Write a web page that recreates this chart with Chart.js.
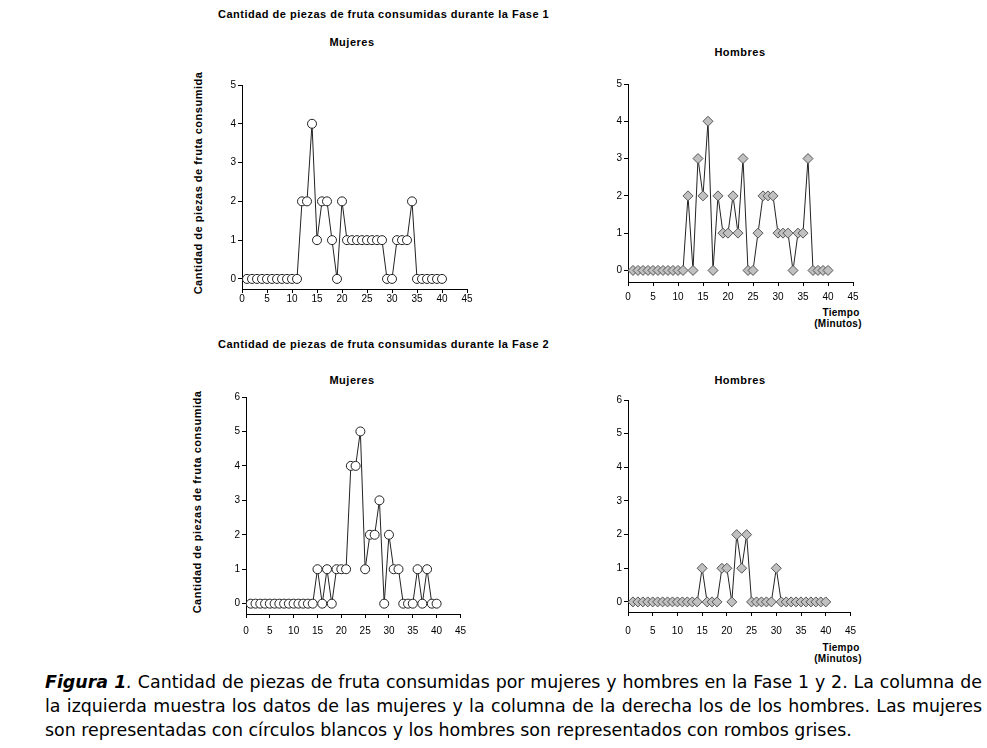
<!DOCTYPE html>
<html>
<head>
<meta charset="utf-8">
<script src="https://cdn.jsdelivr.net/npm/chart.js@4/dist/chart.umd.min.js"></script>
<style>
  body { margin: 0; background: #fff; width: 987px; height: 748px; position: relative; overflow: hidden; }
  canvas { position: absolute; }
  .t { position: absolute; font-family: "Liberation Sans", Arial, sans-serif; font-weight: bold; font-size: 11px; letter-spacing: 0.5px; color: #000; white-space: nowrap; }
  .c { transform: translate(-50%, -50%); }
  .s { font-size: 10px; letter-spacing: 0.3px; }
  .ytitle { transform: translate(-50%, -50%) rotate(-90deg); }
  #caption { position: absolute; left: 45px; top: 670px; width: 937px; font-family: "DejaVu Sans", sans-serif; font-size: 17.4px; line-height: 24px; text-align: justify; color: #000; }
</style>
</head>
<body>
<div class="t" style="left:218px; top:8px;">Cantidad de piezas de fruta consumidas durante la Fase 1</div>
<div class="t c" style="left:352px; top:42px;">Mujeres</div>
<div class="t c" style="left:740px; top:52px;">Hombres</div>
<div class="t ytitle" style="left:198px; top:183px;">Cantidad de piezas de fruta consumida</div>
<div class="t c s" style="left:841px; top:312px;">Tiempo</div>
<div class="t c s" style="left:838px; top:323px;">(Minutos)</div>

<div class="t" style="left:218px; top:338px;">Cantidad de piezas de fruta consumidas durante la Fase 2</div>
<div class="t c" style="left:352px; top:380px;">Mujeres</div>
<div class="t c" style="left:740px; top:380px;">Hombres</div>
<div class="t ytitle" style="left:197px; top:502px;">Cantidad de piezas de fruta consumida</div>
<div class="t c s" style="left:841px; top:647px;">Tiempo</div>
<div class="t c s" style="left:838px; top:658px;">(Minutos)</div>

<canvas id="f1m"></canvas>
<canvas id="f1h"></canvas>
<canvas id="f2m"></canvas>
<canvas id="f2h"></canvas>

<div id="caption"><b><i>Figura 1</i></b><i>.</i> Cantidad de piezas de fruta consumidas por mujeres y hombres en la Fase 1 y 2. La columna de la izquierda muestra los datos de las mujeres y la columna de la derecha los de los hombres. Las mujeres son representadas con círculos blancos y los hombres son representados con rombos grises.</div>

<script>
// minutos 1..40
const minutes = [1,2,3,4,5,6,7,8,9,10,11,12,13,14,15,16,17,18,19,20,21,22,23,24,25,26,27,28,29,30,31,32,33,34,35,36,37,38,39,40];

const mujeresFase1 = [0,0,0,0,0,0,0,0,0,0,0,2,2,4,1,2,2,1,0,2,1,1,1,1,1,1,1,1,0,0,1,1,1,2,0,0,0,0,0,0];
const hombresFase1 = [0,0,0,0,0,0,0,0,0,0,0,2,0,3,2,4,0,2,1,1,2,1,3,0,0,1,2,2,2,1,1,1,0,1,1,3,0,0,0,0];
const mujeresFase2 = [0,0,0,0,0,0,0,0,0,0,0,0,0,0,1,0,1,0,1,1,1,4,4,5,1,2,2,3,0,2,1,1,0,0,0,1,0,1,0,0];
const hombresFase2 = [0,0,0,0,0,0,0,0,0,0,0,0,0,0,1,0,0,0,1,1,0,2,1,2,0,0,0,0,0,1,0,0,0,0,0,0,0,0,0,0];

const xTicks = [0,5,10,15,20,25,30,35,40,45];
const yTicksFase1 = [0,1,2,3,4,5];
const yTicksFase2 = [0,1,2,3,4,5,6];

const YW = 34, XH = 30, PT = 10, PR = 12;

function makeChart(id, values, yTicks, box, isMen) {
  const canvas = document.getElementById(id);
  const w = YW + (box.right - box.left) + PR;
  const h = PT + (box.bottom - box.top) + XH;
  canvas.style.left = (box.left - YW) + 'px';
  canvas.style.top = (box.top - PT) + 'px';
  canvas.width = w;
  canvas.height = h;
  canvas.style.width = w + 'px';
  canvas.style.height = h + 'px';

  return new Chart(canvas, {
    type: 'line',
    data: {
      datasets: [{
        data: minutes.map((m, i) => ({ x: m, y: values[i] })),
        borderColor: '#222',
        borderWidth: 1,
        pointStyle: isMen ? 'rectRot' : 'circle',
        pointRadius: isMen ? 5 : 4.5,
        pointBackgroundColor: isMen ? '#c0c0c0' : '#ffffff',
        pointBorderColor: isMen ? '#555' : '#222',
        pointBorderWidth: 1,
        tension: 0
      }]
    },
    options: {
      responsive: false,
      animation: false,
      layout: { padding: { top: PT, right: PR, left: 0, bottom: 0 } },
      plugins: { legend: { display: false }, tooltip: { enabled: false } },
      scales: {
        x: {
          type: 'linear',
          min: 0,
          max: 45,
          afterFit: s => { s.height = XH; },
          afterBuildTicks: s => { s.ticks = xTicks.map(v => ({ value: v })); },
          grid: { drawOnChartArea: false, tickLength: 4, color: '#000' },
          border: { color: '#000', width: 1 },
          ticks: { color: '#000', font: { family: 'Liberation Sans', size: 10 }, padding: box.xpad, maxRotation: 0 }
        },
        y: {
          min: box.ymin,
          max: yTicks[yTicks.length - 1],
          afterFit: s => { s.width = YW; },
          afterBuildTicks: s => { s.ticks = yTicks.map(v => ({ value: v })); },
          grid: { drawOnChartArea: false, tickLength: 4, color: '#000' },
          border: { color: '#000', width: 1 },
          ticks: { color: '#000', font: { family: 'Liberation Sans', size: 10 }, padding: 2 }
        }
      }
    }
  });
}

makeChart('f1m', mujeresFase1, yTicksFase1, { left: 242, right: 467, top: 85, bottom: 289, ymin: -0.26, xpad: 0 }, false);
makeChart('f1h', hombresFase1, yTicksFase1, { left: 628, right: 853, top: 84, bottom: 282, ymin: -0.31, xpad: 5 }, true);
makeChart('f2m', mujeresFase2, yTicksFase2, { left: 246, right: 461, top: 397, bottom: 614, ymin: -0.3, xpad: 7 }, false);
makeChart('f2h', hombresFase2, yTicksFase2, { left: 628, right: 853, top: 400, bottom: 612, ymin: -0.3, xpad: 9 }, true);
</script>
</body>
</html>
